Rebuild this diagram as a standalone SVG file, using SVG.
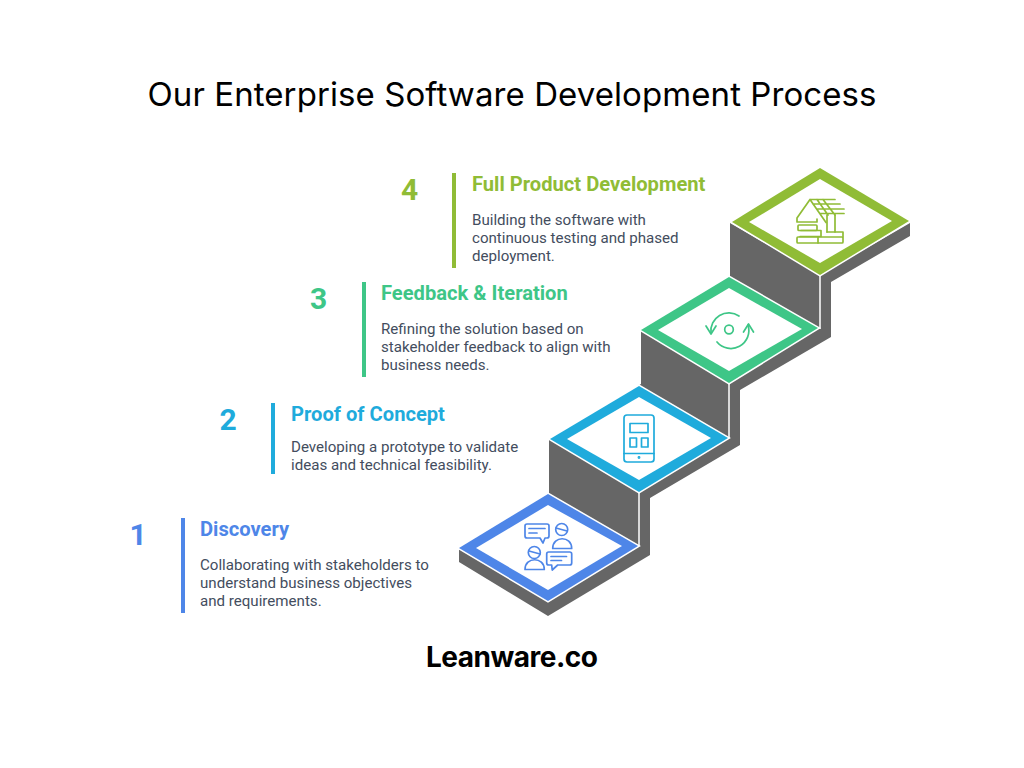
<svg xmlns="http://www.w3.org/2000/svg" width="1024" height="768" viewBox="0 0 1024 768">
<style>
.title{font-family:"Inter","Open Sans","Liberation Sans",sans-serif;font-size:33px;font-weight:400;fill:#000}
.brand{font-family:"Inter","Liberation Sans",sans-serif;font-size:28px;font-weight:700;fill:#000}
.num{font-family:"Roboto","Liberation Sans",sans-serif;font-size:30px;font-weight:700}
.head{font-family:"Roboto","Liberation Sans",sans-serif;font-size:20.15px;font-weight:700}
.body{font-family:"Roboto","Liberation Sans",sans-serif;font-size:15.1px;fill:#434d5e}
.wall{fill:#666}
.frame{stroke:#fff;stroke-width:3;paint-order:stroke;stroke-linejoin:miter}
.inner{fill:#fff}
.edge{fill:none;stroke:#fff;stroke-width:1.5}
.icon{fill:none;stroke-width:1.7;stroke-linecap:round;stroke-linejoin:round}
.c1{fill:#4e86e8}.c2{fill:#1fabdc}.c3{fill:#3ec687}.c4{fill:#90bc36}
.s1{stroke:#4e86e8}.s2{stroke:#1fabdc}.s3{stroke:#3ec687}.s4{stroke:#90bc36}
</style>
<rect width="1024" height="768" fill="#fff"/>
<text class="title" x="512" y="106" text-anchor="middle" textLength="729" lengthAdjust="spacing">Our Enterprise Software Development Process</text>

<g id="stairs">
<polygon class="wall" points="459,550 459,562 548,616 650,555 650,498 740,445 740,390 831,337 831,282 910,236 910,223 820,275 730,223 730,276 641,330 641,384 549,440 549,494"/>
<path class="edge" d="M639,492V546M729,383V438M820,274V329"/>
</g>

<g id="step-1">
<polygon class="frame c1" points="459,548 548,494 638,546 548,601"/>
<polygon class="inner" points="476,548 548,505 622,546 548,590"/>
<g class="icon s1">
<path d="M527,524h20a2,2 0 0 1 2,2v10a2,2 0 0 1-2,2h-2l-2,5-3-5h-13a2,2 0 0 1-2-2v-10a2,2 0 0 1 2-2z"/>
<path d="M529,528.500h16M529,533h8"/>
<circle cx="561.700" cy="529.500" r="6"/><path d="M556,528l11,3"/>
<path d="M552.700,548.500c0-13,19-13,19,0z"/>
<circle cx="534.300" cy="552.500" r="6"/><path d="M529,551l11,3"/>
<path d="M525,569.500c0-13,19.300-13,19.300,0z"/>
<path d="M548.700,552h21a2,2 0 0 1 2,2v9a2,2 0 0 1-2,2h-12l-5.500,5-.5-5h-3a2,2 0 0 1-2-2v-9a2,2 0 0 1 2-2z"/>
<path d="M551,556.500h15.500M551,560.500h10.500"/>
</g>
</g>

<g id="step-2">
<polygon class="frame c2" points="550,439 639,386 728,438 639,492"/>
<polygon class="inner" points="567,439 639,397 711,438 639,480"/>
<g class="icon s2">
<rect x="624" y="415" width="30" height="47" rx="3"/>
<rect x="630" y="423.500" width="18" height="9"/>
<rect x="630" y="438" width="6.500" height="9"/><rect x="641.500" y="438" width="6.500" height="9"/>
<path d="M624,453.500h30"/><circle cx="639" cy="457.500" r=".6"/>
</g>
</g>

<g id="step-3">
<polygon class="frame c3" points="641,330 729,277 818,328 729,383"/>
<polygon class="inner" points="658,330 729,288 802,329 729,371"/>
<g class="icon s3">
<circle cx="729" cy="329.500" r="4.300"/>
<path d="M711,333A18,18 0 0 1 739,316M748,325A18,18 0 0 1 717,342"/>
<path d="M706,326l5,8 5-8M743.500,332l5-8 5,8"/>
</g>
</g>

<g id="step-4">
<polygon class="frame c4" points="732,222 820,168 909,221 820,275"/>
<polygon class="inner" points="749,222 820,179 892,221 820,263"/>
<g class="icon s4" stroke-width="1.400">
<path d="M797,222v-4l13-18.500h25M810,199.500l16,23M817,199.500l11,15.500M823,199.500l12,15.500M813,204h27M817,209h27M820,213.500h24M797,222h20v-3"/>
<path d="M827,215v17M835,215v17"/>
<rect x="798" y="225" width="19" height="5.500" rx="1"/>
<path d="M801,230.500h20v6h-21"/>
<rect x="797" y="237" width="46" height="6" rx="1"/>
<path d="M818,237v6M827,232h16v5"/>
</g>
</g>

<g id="label-1">
<rect class="c1" x="181" y="518" width="4" height="95"/>
<text class="num c1" x="129.500" y="545">1</text>
<text class="head c1" x="200" y="536">Discovery</text>
<text class="body" x="200" y="570">Collaborating with stakeholders to</text>
<text class="body" x="200" y="588">understand business objectives</text>
<text class="body" x="200" y="606">and requirements.</text>
</g>
<g id="label-2">
<rect class="c2" x="271" y="403" width="4" height="71"/>
<text class="num c2" x="219.500" y="430">2</text>
<text class="head c2" x="291" y="421">Proof of Concept</text>
<text class="body" x="291" y="452">Developing a prototype to validate</text>
<text class="body" x="291" y="470">ideas and technical feasibility.</text>
</g>
<g id="label-3">
<rect class="c3" x="362" y="282" width="4" height="95"/>
<text class="num c3" x="310" y="309">3</text>
<text class="head c3" x="381" y="300">Feedback &amp; Iteration</text>
<text class="body" x="381" y="334">Refining the solution based on</text>
<text class="body" x="381" y="352">stakeholder feedback to align with</text>
<text class="body" x="381" y="370">business needs.</text>
</g>
<g id="label-4">
<rect class="c4" x="452" y="173" width="4" height="95"/>
<text class="num c4" x="401" y="200">4</text>
<text class="head c4" x="472" y="191">Full Product Development</text>
<text class="body" x="472" y="225">Building the software with</text>
<text class="body" x="472" y="243">continuous testing and phased</text>
<text class="body" x="472" y="261">deployment.</text>
</g>
<text class="brand" x="512" y="667" text-anchor="middle" textLength="172" lengthAdjust="spacing">Leanware.co</text>
</svg>
